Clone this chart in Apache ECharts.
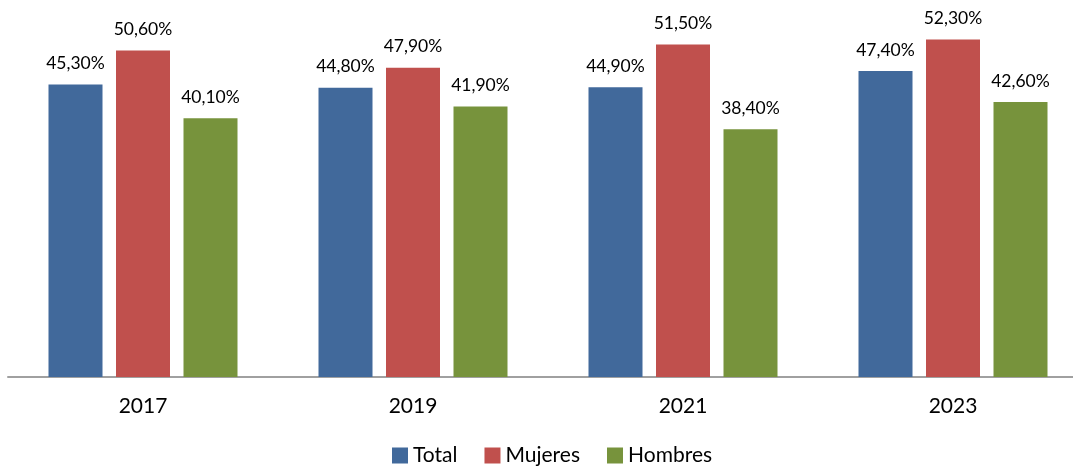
<!DOCTYPE html>
<html>
<head>
<meta charset="utf-8">
<script src="https://cdn.jsdelivr.net/npm/echarts@6/dist/echarts.min.js"></script>
<style>
  html, body { margin: 0; padding: 0; background: #fff; overflow: hidden; }
  #chart { width: 1088px; height: 473px; }
</style>
</head>
<body>
<div id="chart"></div>
<script>
// años y porcentajes
var years = [ '2017', '2019', '2021', '2023' ];
var total = [ 45.3, 44.8, 44.9, 47.4 ];
var mujeres = [ 50.6, 47.9, 51.5, 52.3 ];
var hombres = [ 40.1, 41.9, 38.4, 42.6 ];

var font = 'Lato, "Noto Sans", sans-serif';

function pct( p ) {
  return p.value.toFixed( 2 ).replace( '.', ',' ) + '%';
}

function makeSeries( name, data, color ) {
  return {
    name: name,
    type: 'bar',
    data: data,
    barWidth: 54,
    barGap: '25%',
    itemStyle: { color: color },
    label: {
      show: true,
      position: 'top',
      distance: 12,
      formatter: pct,
      color: '#000',
      fontFamily: font,
      fontSize: 17.5
    }
  };
}

// el lienzo es algo más ancho que la ventana: el eje sigue más allá del borde derecho
var myChart = echarts.init( document.getElementById( 'chart' ) );
myChart.setOption( {
  animation: false,
  grid: { left: 8, right: 0, top: 22, bottom: 96 },
  legend: {
    bottom: 2,
    left: 387,
    itemWidth: 16,
    itemHeight: 16,
    itemGap: 27,
    icon: 'rect',
    textStyle: { fontFamily: font, fontSize: 21, color: '#000' },
    data: [ 'Total', 'Mujeres', 'Hombres' ]
  },
  xAxis: {
    type: 'category',
    data: years,
    axisTick: { show: false },
    axisLine: { lineStyle: { color: '#a0a0a0', width: 2 } },
    axisLabel: { margin: 19, fontFamily: font, fontSize: 21, color: '#000' }
  },
  yAxis: {
    type: 'value',
    min: 0,
    max: 55,
    show: false,
    splitLine: { show: false }
  },
  series: [
    makeSeries( 'Total', total, '#41699b' ),
    makeSeries( 'Mujeres', mujeres, '#c0504d' ),
    makeSeries( 'Hombres', hombres, '#77933c' )
  ]
} );
</script>
</body>
</html>
